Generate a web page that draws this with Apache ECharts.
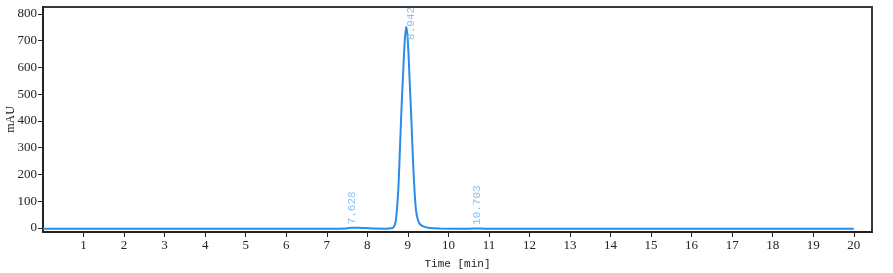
<!DOCTYPE html>
<html>
<head>
<meta charset="utf-8">
<script src="https://cdn.jsdelivr.net/npm/echarts@6/dist/echarts.min.js"></script>
<style>html,body{margin:0;padding:0;background:#fff}#c{width:893px;height:273px}</style>
</head>
<body>
<div id="c"></div>
<script>
// Chromatogram trace: [time (min), signal (mAU)]
var traceTimes = [0, 2, 4, 6, 7.2, 7.45, 7.6, 7.75, 7.95, 8.2, 8.45, 8.55, 8.62, 8.66, 8.70, 8.73, 8.77, 8.81, 8.85, 8.88, 8.92, 8.96, 8.99, 9.02, 9.04, 9.08, 9.11, 9.15, 9.20, 9.25, 9.30, 9.38, 9.50, 9.65, 9.8, 10.5, 10.7, 10.9, 12, 14, 16, 18, 20];
var traceValues = [-2.5, -2.5, -2.5, -2.5, -2.5, -1.5, 0.5, 0.5, -0.5, -2, -2.5, -2, 0, 5, 25, 68, 160, 317, 470, 566, 690, 752, 720, 640, 566, 430, 317, 180, 68, 30, 14, 6, 1, -1, -2, -2.5, -1.8, -2.5, -2.5, -2.5, -2.5, -2.5, -2.5];
// Integrated peaks
var peakTimes = [7.628, 8.942, 10.703];
var peakHeights = [0.5, 752, -1.8];
var peakLabels = ["7.628", "8.942", "10.703"];
// Axis ticks
var xTicks = [1, 2, 3, 4, 5, 6, 7, 8, 9, 10, 11, 12, 13, 14, 15, 16, 17, 18, 19, 20];
var yTicks = [0, 100, 200, 300, 400, 500, 600, 700, 800];

var trace = traceTimes.map(function (t, i) { return [t, traceValues[i]]; });
var labelItems = peakTimes.map(function (t, i) {
  var h = peakHeights[i];
  var item = { value: [t, Math.min(h, 690)], name: peakLabels[i] };
  if (h > 690) item.label = { offset: [0, 6] };
  return item;
});

var serif = "'Liberation Serif', 'DejaVu Serif', serif";
var mono = "'Liberation Mono', 'DejaVu Sans Mono', monospace";
var chart = echarts.init(document.getElementById('c'), null, { renderer: 'canvas' });
chart.setOption({
  animation: false,
  backgroundColor: '#fff',
  grid: { left: 43, right: 21, top: 7, bottom: 41, containLabel: false, outerBoundsMode: 'none', show: true, borderColor: '#3a3a3a', borderWidth: 2, backgroundColor: 'transparent' },
  xAxis: {
    type: 'value', min: 0, max: 20.45,
    name: 'Time [min]', nameLocation: 'middle', nameGap: 27, nameMoveOverlap: false,
    nameTextStyle: { fontFamily: mono, fontSize: 11, color: '#222' },
    axisLine: { onZero: false, lineStyle: { color: '#222', width: 2 } },
    axisTick: { show: true, length: 5, customValues: xTicks, lineStyle: { color: '#222', width: 1 } },
    axisLabel: { customValues: xTicks, margin: 7, fontFamily: serif, fontSize: 13, color: '#222' },
    splitLine: { show: false }
  },
  yAxis: {
    type: 'value', min: -15, max: 826,
    name: 'mAU', nameLocation: 'middle', nameGap: 26, nameRotate: 90, nameMoveOverlap: false,
    nameTextStyle: { fontFamily: serif, fontSize: 12, color: '#222' },
    axisLine: { show: true, onZero: false, lineStyle: { color: '#222', width: 2 } },
    axisTick: { show: true, length: 5, customValues: yTicks, lineStyle: { color: '#222', width: 1 } },
    axisLabel: { customValues: yTicks, margin: 6, fontFamily: serif, fontSize: 13, color: '#222' },
    splitLine: { show: false }
  },
  series: [
    {
      type: 'line', data: trace, showSymbol: false, smooth: 0.3,
      lineStyle: { color: '#2b8ce8', width: 2 }, z: 3
    },
    {
      type: 'scatter', data: labelItems, symbolSize: 1,
      itemStyle: { color: 'rgba(0,0,0,0)' },
      label: {
        show: true, position: 'top', distance: 3, rotate: 90,
        align: 'left', verticalAlign: 'middle',
        formatter: function (p) { return p.name; },
        fontFamily: mono, fontSize: 11, color: '#6ab0ee'
      },
      z: 4
    }
  ]
});
</script>
</body>
</html>
